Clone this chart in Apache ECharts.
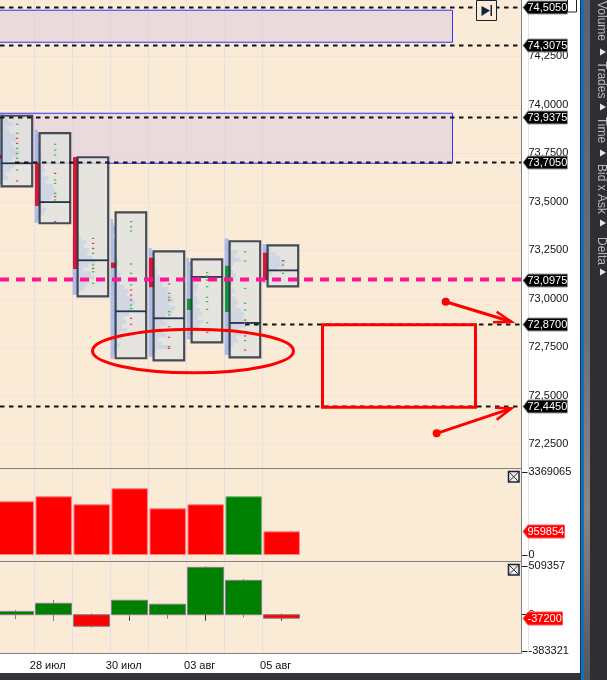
<!DOCTYPE html>
<html>
<head>
<meta charset="utf-8">
<style>
  html, body { margin: 0; padding: 0; background: #fff; }
  #chart { width: 607px; height: 680px; }
</style>
<script src="https://cdn.jsdelivr.net/npm/echarts@6/dist/echarts.min.js"></script>
</head>
<body>
<div id="chart"></div>
<script>
// sessions, the tail of the axis is empty
const days = ['27 июл', '28 июл', '29 июл', '30 июл', '31 июл', '03 авг', '04 авг', '05 авг', '', '', '', '', '', '']

// value area box and poc of each session
const boxHigh = [73.942, 73.852, 73.728, 73.444, 73.243, 73.202, 73.295, 73.274]
const boxLow = [73.578, 73.388, 73.011, 72.692, 72.681, 72.774, 72.697, 73.063]
const pocPrice = [73.697, 73.497, 73.197, 72.934, 72.898, 73.111, 72.874, 73.145]

// narrow body strip left of the box
const bodyOpen = [73.74, 73.698, 73.729, 73.185, 73.21, 72.941, 72.93, 73.236]
const bodyClose = [73.72, 73.477, 73.152, 73.157, 73.058, 72.999, 73.169, 73.095]

// volume at price, rows go down from profileTop
const profileTop = [73.94, 73.86, 73.31, 73.4, 73.25, 73.2, 73.3, 73.27]
const profileStep = 0.02
const profile0 = [18, 30, 42, 26, 34, 48, 52, 38, 44, 60, 56, 40, 32, 46, 36, 24, 30, 16]
const profile1 = [8, 12, 10, 16, 14, 12, 20, 18, 16, 24, 28, 22, 36, 30, 48, 52, 58, 44, 26, 20, 30, 24, 14, 10]
const profile2 = [22, 36, 30, 44, 38, 52, 60, 42, 28, 48, 56, 44, 36, 30, 14]
const profile3 = [6, 8, 14, 10, 8, 12, 16, 10, 14, 12, 18, 22, 16, 20, 26, 30, 24, 36, 46, 42, 58, 64, 54, 62, 48, 34, 40, 30, 44, 24, 32, 18, 26, 14, 10, 8]
const profile4 = [8, 14, 10, 18, 12, 22, 20, 30, 44, 36, 52, 48, 60, 66, 54, 70, 62, 44, 38, 48, 30, 36, 46, 26, 34, 52, 20, 12]
const profile5 = [6, 12, 10, 18, 14, 24, 22, 30, 26, 20, 28, 32, 24, 34, 40, 30, 44, 36, 26, 16, 10]
const profile6 = [10, 18, 14, 34, 28, 42, 24, 18, 22, 30, 26, 20, 16, 24, 18, 28, 34, 30, 44, 52, 48, 60, 56, 38, 46, 30, 36, 24, 14, 10]
const profile7 = [14, 22, 34, 46, 60, 54, 38, 26, 18, 10]
const profiles = [profile0, profile1, profile2, profile3, profile4, profile5, profile6, profile7]

// tiny bid x ask marks in the boxes: price, side (1 green, -1 red)
const marks0 = [[73.898, 1], [73.852, 1], [73.826, -1], [73.8, -1], [73.774, 1], [73.748, 1], [73.723, 1], [73.662, 1], [73.606, -1]]
const marks1 = [[73.795, 1], [73.765, 1], [73.74, 1], [73.645, -1], [73.611, 1], [73.593, 1], [73.542, 1], [73.525, -1], [73.508, 1], [73.396, -1]]
const marks2 = [[73.31, 1], [73.284, -1], [73.258, -1], [73.233, 1], [73.173, 1], [73.155, -1], [73.138, 1], [73.078, 1]]
const marks3 = [[73.396, 1], [73.37, 1], [73.348, 1], [73.178, 1], [73.13, 1], [73.104, 1], [73.07, 1], [73.044, -1], [73.018, -1], [72.992, -1], [72.966, 1], [72.949, 1], [72.898, -1], [72.867, -1]]
const marks4 = [[73.075, -1], [73.027, 1], [73.006, 1], [72.992, -1], [72.932, 1], [72.915, 1], [72.855, 1], [72.8, -1], [72.752, 1], [72.743, -1]]
const marks5 = [[73.133, 1], [73.116, 1], [73.095, -1], [73.061, 1], [73.006, 1], [72.984, 1], [72.944, 1], [72.875, 1], [72.838, 1], [72.826, -1]]
const marks6 = [[73.241, 1], [73.193, 1], [73.052, 1], [72.975, 1], [72.941, 1], [72.889, -1], [72.872, 1], [72.807, -1], [72.783, 1], [72.734, -1]]
const marks7 = [[73.195, -1], [73.173, 1], [73.147, -1], [73.13, 1]]
const marks = [marks0, marks1, marks2, marks3, marks4, marks5, marks6, marks7]

// horizontal levels and shaded zones
const priceTicks = [74.25, 74, 73.75, 73.5, 73.25, 73, 72.75, 72.5, 72.25]
const blackLevels = [74.505, 74.3075, 73.9375, 73.705, 72.87, 72.445]
const pinkLevel = 73.0975
const zoneHigh = [74.486, 73.955]
const zoneLow = [74.321, 73.697]

// lower panes
const volume = [2179700, 2382700, 2058000, 2707400, 1895600, 2058000, 2382700, 959854]
const volumeUp = [0, 0, 0, 0, 0, 0, 1, 0]
const volumeTicks = [3369065, 0]
const deltaClose = [35000, 120000, -122000, 152000, 110000, 499000, 362000, -37200]
const deltaHigh = [50000, 155000, 15000, 152000, 110000, 509357, 376000, 15000]
const deltaLow = [-48000, -63000, -137000, -27000, -42000, 0, -27000, -42000]
const deltaTicks = [509357, 0, -383321]

// drawn by hand on the chart, prices only
const ellipseTop = 72.842
const ellipseBottom = 72.617
const arrowUpper = [72.983, 72.88]
const arrowLower = [72.305, 72.434]

const FONT = '"Liberation Sans", Arial, sans-serif'
const BG = '#faebd7'
const AXIS_GREY = '#808080'
const PLOT_RIGHT = 521
const priceText = v => v.toFixed(4).replace('.', ',')

// y of a price, always in the main pane
const priceY = (api, p) => api.coord([0, p])[1]

const hLine = (x1, x2, y, stroke, width, dash) => ({
  type: 'line',
  shape: { x1, y1: y, x2, y2: y },
  style: { stroke, lineWidth: width, lineDash: dash || null }
})

const renderGridLines = (params, api) =>
  hLine(0, PLOT_RIGHT, Math.round(priceY(api, api.value(0))) + 0.5, '#f2e0dc', 1)

const renderZone = (params, api) => {
  const y1 = priceY(api, api.value(0))
  const y2 = priceY(api, api.value(1))
  return {
    type: 'rect',
    shape: { x: -4, y: y1, width: 456.5, height: y2 - y1 },
    style: { fill: 'rgba(215,195,225,0.42)', stroke: '#3434ff', lineWidth: 1 }
  }
}

const renderBody = (params, api) => {
  const i = api.value(0)
  const slot = api.size([1, 0])[0]
  const left = api.coord([i, 0])[0] - slot / 2
  const y1 = priceY(api, api.value(1))
  const y2 = priceY(api, api.value(2))
  return {
    type: 'rect',
    shape: { x: left + 0.3, y: Math.min(y1, y2), width: 5.2, height: Math.abs(y2 - y1) },
    style: { fill: api.value(2) > api.value(1) ? '#12953c' : '#dc1535' }
  }
}

const renderProfile = (params, api) => {
  const slot = api.size([1, 0])[0]
  const left = api.coord([api.value(0), 0])[0] - slot / 2
  const y = priceY(api, api.value(1))
  return {
    type: 'rect',
    shape: { x: left, y: y - 1.9, width: api.value(2) / 100 * slot, height: 3.9 },
    style: { fill: 'rgba(125,160,235,0.62)' }
  }
}

const renderBox = (params, api) => {
  const i = api.value(0)
  const cx = api.coord([i, 0])[0] + 1.2
  const y1 = priceY(api, api.value(1))
  const y2 = priceY(api, api.value(2))
  const poc = priceY(api, api.value(3))
  return {
    type: 'group',
    children: [
      {
        type: 'rect',
        shape: { x: cx - 15.3, y: y1, width: 30.6, height: y2 - y1 },
        style: { fill: 'rgba(222,224,224,0.72)', stroke: 'rgba(40,48,60,0.85)', lineWidth: 2.2 }
      },
      hLine(cx - 15.3, cx + 15.3, poc, '#24344e', 1.8)
    ]
  }
}

const renderMark = (params, api) => {
  const cx = api.coord([api.value(0), 0])[0] + 1.2
  const y = priceY(api, api.value(1))
  return {
    type: 'rect',
    shape: { x: cx - 1, y: y - 0.6, width: 2.4, height: 1.2 },
    style: { fill: api.value(2) > 0 ? '#34c04a' : '#e23a58' }
  }
}

const renderLevel = (params, api) => {
  const price = api.value(0)
  // these two levels start further right on the chart
  let start = 0
  if (price === 73.705) start = 15
  if (price === 72.87) start = 245
  return hLine(start, PLOT_RIGHT, Math.round(priceY(api, price)) + 0.5, '#141414', 2, [4.5, 4.5])
}

const renderPink = (params, api) =>
  hLine(0, PLOT_RIGHT, priceY(api, api.value(0)), '#ff1493', 4, [9, 7])

const arrow = (x1, y1, x2, y2, barbs) => ({
  type: 'group',
  children: [
    { type: 'line', shape: { x1, y1, x2, y2 }, style: { stroke: '#ff0000', lineWidth: 3 } },
    { type: 'circle', shape: { cx: x1, cy: y1, r: 4 }, style: { fill: '#ff0000' } },
    { type: 'polyline', shape: { points: [barbs[0], [x2, y2], barbs[1]] }, style: { stroke: '#ff0000', lineWidth: 2.5, fill: null } }
  ]
})

const renderDrawings = (params, api) => {
  const rectTop = priceY(api, blackLevels[4])
  const rectBottom = priceY(api, blackLevels[5])
  const eTop = priceY(api, ellipseTop)
  const eBottom = priceY(api, ellipseBottom)
  const u1 = priceY(api, arrowUpper[0])
  const u2 = priceY(api, arrowUpper[1])
  const l1 = priceY(api, arrowLower[0])
  const l2 = priceY(api, arrowLower[1])
  return {
    type: 'group',
    children: [
      {
        type: 'rect',
        shape: { x: 322.5, y: rectTop + 1, width: 153, height: rectBottom - rectTop },
        style: { fill: null, stroke: '#ff0000', lineWidth: 3 }
      },
      {
        type: 'ellipse',
        shape: { cx: 193, cy: (eTop + eBottom) / 2, rx: 100.5, ry: (eBottom - eTop) / 2 },
        style: { fill: null, stroke: '#ff0000', lineWidth: 3 }
      },
      arrow(445.7, u1, 511.5, u2, [[496.7, u2 - 10], [493, u2 + 0.5]]),
      arrow(436.7, l1, 511.5, l2, [[495, l2 - 0.5], [496.7, l2 + 11.5]])
    ]
  }
}

// price tag pointing at the axis
const renderTag = (params, api) => {
  const black = params.seriesName === 'priceTags'
  const text = black ? priceText(api.value(0)) : String(api.value(0))
  const y = Math.round(api.coord([0, api.value(0)])[1]) + 0.5
  let right = 567.5
  if (params.seriesName === 'volumeTag') right = 564.5
  if (params.seriesName === 'deltaTag') right = 562.5
  return {
    type: 'group',
    children: [
      {
        type: 'polygon',
        shape: { points: [[523, y], [528, y - 6.5], [right, y - 6.5], [right, y + 6.5], [528, y + 6.5]] },
        style: { fill: black ? '#000' : '#ff0000', stroke: black ? '#9a9a9a' : '#ff5a5a', lineWidth: 1 }
      },
      {
        type: 'text',
        style: { x: 527.5, y: y, text, fill: '#fff', font: '11px ' + FONT, textVerticalAlign: 'middle' }
      }
    ]
  }
}

// first slot starts left of the canvas, keep echarts from pulling it back in
const paneBase = { left: -3.3, width: 532, outerBoundsMode: 'none', containLabel: false }
const panes = [
  { ...paneBase, top: 0, height: 468.5 },
  { ...paneBase, top: 469, height: 92.3 },
  { ...paneBase, top: 561.3, height: 92 }
]

const xAxisFor = (gridIndex, withLabels) => ({
  type: 'category',
  gridIndex,
  data: days,
  axisLine: { show: false },
  axisTick: {
    show: withLabels,
    alignWithLabel: true,
    length: 6,
    lineStyle: { color: '#333' },
    interval: i => i % 2 === 1 && i < 8
  },
  axisLabel: {
    show: withLabels,
    interval: i => i % 2 === 1 && i < 8,
    fontSize: 11,
    color: '#111',
    margin: 7,
    padding: [0, 12, 0, 0]
  },
  splitLine: {
    show: true,
    interval: i => i >= 1 && i <= 7,
    lineStyle: { color: '#e8dee6', width: 1 }
  }
})

const yAxisFor = (gridIndex, min, max, customValues, formatter, ticks) => ({
  type: 'value',
  gridIndex,
  position: 'right',
  offset: -7.2,
  min,
  max,
  splitLine: { show: false },
  axisLine: { show: false },
  axisTick: ticks ? { show: true, customValues, length: 6, lineStyle: { color: '#222' } } : { show: false },
  axisLabel: {
    customValues,
    formatter,
    fontSize: 11,
    color: '#111',
    margin: 7,
    hideOverlap: false,
    showMinLabel: true,
    showMaxLabel: true
  }
})

const mainSeries = (name, z, data, renderItem) => ({
  name, type: 'custom', xAxisIndex: 0, yAxisIndex: 0, z, data, renderItem, silent: true, animation: false
})

const profileData = []
profiles.forEach((rows, i) => rows.forEach((v, r) => profileData.push([i, +(profileTop[i] - r * profileStep).toFixed(3), v])))
const markData = []
marks.forEach((list, i) => list.forEach(m => markData.push([i, m[0], m[1]])))

const tabs = [
  ['Volume', 21], ['Trades', 80], ['Time', 130], ['Bid x Ask', 189], ['Delta', 251]
]
const tabArrows = [52, 107, 153, 223, 272]

const chart = echarts.init(document.getElementById('chart'), null, { renderer: 'canvas' })

chart.setOption({
  animation: false,
  backgroundColor: '#fff',
  textStyle: { fontFamily: FONT },
  grid: panes,
  xAxis: [xAxisFor(0, false), xAxisFor(1, false), xAxisFor(2, true)],
  yAxis: [
    yAxisFor(0, 72.1237, 74.5387, priceTicks, v => priceText(v), false),
    yAxisFor(1, -255723, 3490826, volumeTicks, v => String(v), true),
    yAxisFor(2, -406844, 562836, deltaTicks, v => String(v), true)
  ],
  graphic: [
    // plot background and pane frames
    { type: 'rect', z: -10, shape: { x: 0, y: 0, width: 521.5, height: 653.5 }, style: { fill: BG } },
    { type: 'line', z: 1, shape: { x1: 0, y1: 468.5, x2: 521.5, y2: 468.5 }, style: { stroke: AXIS_GREY } },
    { type: 'line', z: 1, shape: { x1: 0, y1: 561.5, x2: 521.5, y2: 561.5 }, style: { stroke: AXIS_GREY } },
    { type: 'line', z: 1, shape: { x1: 0, y1: 653.5, x2: 521.5, y2: 653.5 }, style: { stroke: AXIS_GREY } },
    { type: 'line', z: 1, shape: { x1: 521.5, y1: 0, x2: 521.5, y2: 653.5 }, style: { stroke: AXIS_GREY } },
    // window chrome on the right and bottom
    { type: 'rect', z: 20, shape: { x: 0, y: 673, width: 580, height: 7 }, style: { fill: '#333338' } },
    { type: 'rect', z: 20, shape: { x: 580, y: 0, width: 27, height: 680 }, style: { fill: '#2f2f33' } },
    { type: 'rect', z: 21, shape: { x: 581, y: 0, width: 3, height: 680 }, style: { fill: '#0a72c4' } },
    {
      type: 'rect', z: 21, shape: { x: 584, y: 0, width: 6, height: 680 },
      style: {
        fill: new echarts.graphic.LinearGradient(0, 0, 0, 1, [
          { offset: 0, color: '#5c626c' },
          { offset: 0.5, color: '#6e6f76' },
          { offset: 0.75, color: '#8f8480' },
          { offset: 1, color: '#55555a' }
        ])
      }
    },
    ...tabs.map(t => ({
      type: 'text', z: 22, x: 601, y: t[1], rotation: -Math.PI / 2,
      style: { text: t[0], fill: '#b4bcc6', font: '12px ' + FONT, textAlign: 'center', textVerticalAlign: 'middle' }
    })),
    ...tabArrows.map(y => ({
      type: 'polygon', z: 22,
      shape: { points: [[600, y - 3.5], [606, y], [600, y + 3.5]] },
      style: { fill: '#e6e6e6' }
    })),
    // white corner box next to the top tag
    { type: 'rect', z: 20, shape: { x: 567.5, y: -1, width: 9, height: 13 }, style: { fill: '#fff', stroke: '#222' } },
    // play to end button
    { type: 'rect', z: 20, shape: { x: 476.5, y: 0.5, width: 20, height: 20 }, style: { fill: BG, stroke: '#14233c', lineWidth: 1 } },
    { type: 'polygon', z: 21, shape: { points: [[481.5, 6], [490, 10.5], [481.5, 16]] }, style: { fill: '#14233c' } },
    { type: 'rect', z: 21, shape: { x: 490.5, y: 5, width: 1.5, height: 11 }, style: { fill: '#14233c' } },
    // close boxes of the lower panes
    ...[471, 564].map(y => ({
      type: 'group', z: 20, children: [
        { type: 'rect', shape: { x: 508.5, y: y + 0.5, width: 10.5, height: 10.5 }, style: { fill: '#f0ece6', stroke: '#14233c', lineWidth: 1.5 } },
        { type: 'line', shape: { x1: 509, y1: y + 1, x2: 518.5, y2: y + 10.5 }, style: { stroke: '#333', lineWidth: 1 } },
        { type: 'line', shape: { x1: 518.5, y1: y + 1, x2: 509, y2: y + 10.5 }, style: { stroke: '#333', lineWidth: 1 } }
      ]
    }))
  ],
  series: [
    mainSeries('gridLines', 1, priceTicks.map(p => [p]), renderGridLines),
    mainSeries('zones', 2, zoneHigh.map((h, i) => [h, zoneLow[i]]), renderZone),
    mainSeries('profiles', 3, profileData, renderProfile),
    mainSeries('bodies', 4, bodyOpen.map((o, i) => [i, o, bodyClose[i]]), renderBody),
    mainSeries('boxes', 5, boxHigh.map((h, i) => [i, h, boxLow[i], pocPrice[i]]), renderBox),
    mainSeries('marks', 6, markData, renderMark),
    mainSeries('levels', 7, blackLevels.map(p => [p]), renderLevel),
    mainSeries('pink', 8, [[pinkLevel]], renderPink),
    mainSeries('drawings', 9, [[0]], renderDrawings),
    mainSeries('priceTags', 10, blackLevels.concat(pinkLevel).map(p => [p]), renderTag),
    {
      name: 'volume',
      type: 'bar',
      xAxisIndex: 1,
      yAxisIndex: 1,
      barWidth: 36.5,
      z: 5,
      silent: true,
      data: volume.map((v, i) => ({
        value: v,
        itemStyle: volumeUp[i]
          ? { color: '#008000', borderColor: '#6db56d', borderWidth: 1 }
          : { color: '#ff0000', borderColor: '#ff8080', borderWidth: 1 }
      }))
    },
    {
      name: 'delta',
      type: 'candlestick',
      xAxisIndex: 2,
      yAxisIndex: 2,
      barWidth: 37,
      z: 5,
      silent: true,
      itemStyle: {
        color: '#008000',
        color0: '#ff0000',
        borderColor: '#808080',
        borderColor0: '#808080',
        borderWidth: 1
      },
      data: deltaClose.map((c, i) => [0, c, deltaLow[i], deltaHigh[i]])
    },
    {
      name: 'volumeTag', type: 'custom', xAxisIndex: 1, yAxisIndex: 1, z: 10, silent: true,
      data: [[volume[7]]], renderItem: renderTag
    },
    {
      name: 'deltaTag', type: 'custom', xAxisIndex: 2, yAxisIndex: 2, z: 10, silent: true,
      data: [[deltaClose[7]]], renderItem: renderTag
    }
  ]
})
</script>
</body>
</html>
